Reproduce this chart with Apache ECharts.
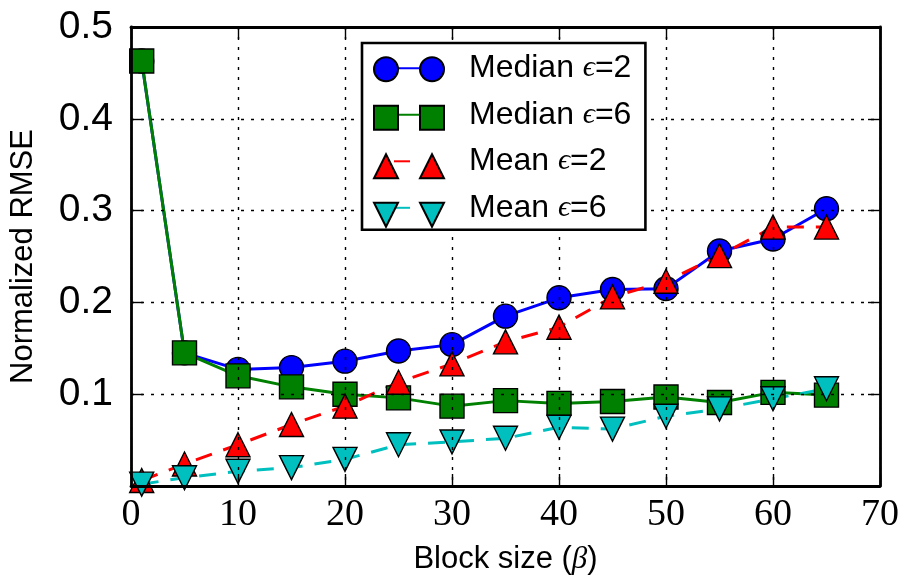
<!DOCTYPE html>
<html>
<head>
<meta charset="utf-8">
<script src="https://cdn.jsdelivr.net/npm/echarts@6/dist/echarts.min.js"></script>
<style>html,body{margin:0;padding:0;background:#fff;}#chart{width:902px;height:580px;}</style>
</head>
<body>
<div id="chart"></div>
<script>
// ---- data ----
const blockSizes = [1, 5, 10, 15, 20, 25, 30, 35, 40, 45, 50, 55, 60, 65];
const medianEps2 = [0.463, 0.145, 0.127, 0.129, 0.136, 0.147, 0.154, 0.185, 0.205, 0.214, 0.215, 0.256, 0.269, 0.302];
const medianEps6 = [0.463, 0.145, 0.120, 0.108, 0.100, 0.096, 0.087, 0.093, 0.090, 0.092, 0.097, 0.091, 0.102, 0.099];
const meanEps2   = [0.006, 0.024, 0.045, 0.067, 0.087, 0.113, 0.133, 0.157, 0.173, 0.206, 0.223, 0.251, 0.282, 0.282];
const meanEps6   = [0.002, 0.009, 0.016, 0.020, 0.029, 0.045, 0.048, 0.052, 0.064, 0.062, 0.076, 0.084, 0.095, 0.106];
const seriesNames = ['Median ϵ=2', 'Median ϵ=6', 'Mean ϵ=2', 'Mean ϵ=6'];
const xTicks = [0, 10, 20, 30, 40, 50, 60, 70];
const yTicks = [0.1, 0.2, 0.3, 0.4, 0.5];

const SANS = '"Liberation Sans", Arial, Helvetica, sans-serif';
const SERIF = '"Liberation Serif", "DejaVu Serif", serif';
const pairs = ys => blockSizes.map((x, i) => [x, ys[i]]);

const chart = echarts.init(document.getElementById('chart'), null, {renderer: 'canvas'});

const gridDot = {show: true, lineStyle: {color: '#000', width: 1.4, type: [3, 7]}};
const frame = {show: true, onZero: false, lineStyle: {color: '#000', width: 2.8}};
const tick = {show: true, inside: true, length: 12, lineStyle: {color: '#000', width: 1.4}};

const markerBorder = {borderColor: '#000', borderWidth: 1.4};

const iconPaths = {
  'Median ϵ=2': 'path://M0,12A12,12,0,1,0,24,12A12,12,0,1,0,0,12Z M46,12A12,12,0,1,0,70,12A12,12,0,1,0,46,12Z',
  'Median ϵ=6': 'path://M0,0H24V24H0Z M46,0H70V24H46Z',
  'Mean ϵ=2': 'path://M12,0L24,24L0,24Z M58,0L70,24L46,24Z',
  'Mean ϵ=6': 'path://M0,0L24,0L12,24Z M46,0L70,0L58,24Z'
};

const option = {
  animation: false,
  backgroundColor: '#fff',
  grid: {left: 130, right: 22, top: 27, bottom: 91, containLabel: false},
  legend: [
    {
      orient: 'vertical', left: 362, top: 43,
      itemWidth: 70, itemHeight: 24, itemGap: 14.5,
      padding: [9.3, 14, 6, 11],
      z: 5,
      backgroundColor: '#fff', borderColor: '#000', borderWidth: 2.6, borderRadius: 0,
      itemStyle: {opacity: 0},
      data: seriesNames.map((n, i) => i >= 2 ? {name: n, lineStyle: {dashOffset: 30, type: [16, 34]}} : {name: n}),
      formatter: n => { const p = n.split('ϵ'); return '{t|' + p[0] + '}{e|ϵ}{t|' + p[1] + '}'; },
      textStyle: {fontFamily: SANS, fontSize: 32, color: '#000', lineHeight: 32, padding: [0, 0, 0, 20],
        rich: {
          t: {fontFamily: SANS, fontSize: 32, lineHeight: 32, color: '#000'},
          e: {fontFamily: SERIF, fontStyle: 'italic', fontSize: 30, lineHeight: 32, color: '#000'}
        }}
    },
    {
      orient: 'vertical', left: 362, top: 43,
      itemWidth: 70, itemHeight: 24, itemGap: 22.5,
      padding: [13.3, 14, 13.3, 11],
      z: 6,
      backgroundColor: 'transparent', borderWidth: 0,
      data: seriesNames.map(n => ({name: n, icon: iconPaths[n]})),
      formatter: () => '',
      textStyle: {fontSize: 1, lineHeight: 24}
    }
  ],
  xAxis: [
    {
      type: 'value', position: 'bottom', min: 0, max: 70, interval: 10, z: 3,
      axisLine: frame, axisTick: tick, splitLine: {show: false},
      axisLabel: {fontFamily: SERIF, fontSize: 38, color: '#000', margin: 10,
        formatter: v => xTicks.includes(v) ? String(v) : ''},
      name: 'Block size ({b|β})', nameLocation: 'middle', nameGap: 58,
      nameTextStyle: {fontFamily: SANS, fontSize: 31, color: '#000',
        rich: {b: {fontFamily: SERIF, fontStyle: 'italic', fontSize: 31, color: '#000'}}}
    },
    {
      type: 'value', position: 'top', min: 0, max: 70, interval: 10, z: 3,
      axisLine: frame, axisTick: tick, axisLabel: {show: false}, splitLine: gridDot
    }
  ],
  yAxis: [
    {
      type: 'value', position: 'left', min: 0, max: 0.5, interval: 0.1, z: 3,
      axisLine: frame, axisTick: tick, splitLine: {show: false},
      axisLabel: {fontFamily: SANS, fontSize: 39, color: '#000', margin: 18,
        formatter: v => {const t = yTicks.find(y => Math.abs(y - v) < 1e-9); return t ? t.toFixed(1) : '';}},
      name: 'Normalized RMSE', nameLocation: 'middle', nameRotate: 90, nameGap: 92,
      nameTextStyle: {fontFamily: SANS, fontSize: 31, color: '#000'}
    },
    {
      type: 'value', position: 'right', min: 0, max: 0.5, interval: 0.1, z: 3,
      axisLine: frame, axisTick: tick, axisLabel: {show: false}, splitLine: gridDot
    }
  ],
  series: [
    {name: seriesNames[0], type: 'line', data: pairs(medianEps2), symbol: 'circle', symbolSize: 24,
      itemStyle: Object.assign({color: '#0000ff'}, markerBorder), lineStyle: {color: '#0000ff', width: 3}, z: 2},
    {name: seriesNames[1], type: 'line', data: pairs(medianEps6), symbol: 'rect', symbolSize: 24,
      itemStyle: Object.assign({color: '#008000'}, markerBorder), lineStyle: {color: '#008000', width: 3}, z: 2},
    {name: seriesNames[2], type: 'line', data: pairs(meanEps2), symbol: 'triangle', symbolSize: 24,
      itemStyle: Object.assign({color: '#ff0000'}, markerBorder), lineStyle: {color: '#ff0000', width: 3, type: [17, 12]}, z: 2},
    {name: seriesNames[3], type: 'line', data: pairs(meanEps6), symbol: 'triangle', symbolRotate: 180, symbolSize: 24,
      itemStyle: Object.assign({color: '#00bfbf'}, markerBorder), lineStyle: {color: '#00bfbf', width: 3, type: [17, 12]}, z: 2}
  ]
};
chart.setOption(option);
</script>
</body>
</html>
